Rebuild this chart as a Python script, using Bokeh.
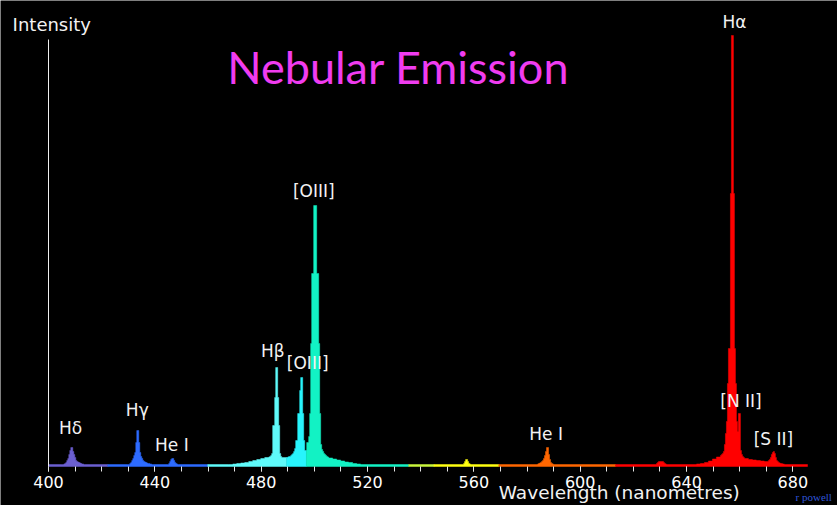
from bokeh.plotting import figure
from bokeh.models import Range1d, FixedTicker, Label
from bokeh.embed import file_html
from bokeh.resources import INLINE

# ---------------------------------------------------------------------------
# Spectrum data (wavelength in nm, intensity in relative units, Hbeta ~ 100)
# ---------------------------------------------------------------------------
WL_MIN, WL_MAX = 400.0, 685.5
CONTINUUM = 2.0          # faint continuum between the emission features
FINE = 0.376             # fine sampling step (nm)
COARSE = 1.504           # coarse sampling step used for the broad wings (nm)

# H-delta 410
H_DELTA_START = 405.00
H_DELTA = [2, 2, 2.5, 3, 4, 6, 8, 12, 16, 19, 19, 15, 12, 9, 6, 5, 4.5, 4,
           3.5, 3, 2.5, 2.5, 2]

# H-gamma 434
H_GAMMA_START = 429.82
H_GAMMA = [2, 2, 3, 4, 6, 8, 11, 14, 24, 36, 36, 24, 14, 10, 8, 6, 5, 4.5,
           4, 3.5, 3, 3, 2.5, 2.5, 2, 2]

# He I 447
HE_I_447_START = 444.85
HE_I_447 = [2, 3, 5, 7, 8, 8, 6, 4, 3, 2.5, 2]

# blue wing of the H-beta / [O III] complex
HB_WING_BLUE_START = 467.79
HB_WING_BLUE = [2, 2.5, 3, 3.5, 4, 5, 6, 7, 8, 9]

# H-beta 486, [O III] 496 and [O III] 501
HB_OIII_START = 482.83
HB_OIII = [9.5, 10, 11, 13, 41, 41, 69, 99, 99, 69, 41, 13, 10, 9, 9, 9, 9,
           9, 9, 9.5, 10, 10, 11, 12, 13, 15, 18, 26, 26, 53, 53, 76, 89, 89,
           53, 26, 16, 16, 24, 24, 30, 53, 123, 193, 193, 261, 261, 261, 193,
           193, 123, 53, 22, 17, 15, 13, 12, 11, 10, 9.5]

# red wing of the [O III] complex
OIII_WING_RED_START = 505.39
OIII_WING_RED = [8.5, 7.5, 6.5, 5.5, 4.5, 4, 3, 2.5]

# [O I] 558
OI_558_START = 556.14
OI_558 = [3, 5, 7, 7, 5, 3, 2.5]

# He I 588
HE_I_588_START = 583.95
HE_I_588 = [2.5, 3, 3.5, 4, 5, 6, 8, 11, 15, 19, 19, 12, 7, 4, 3, 2.5]

# [O I] 630
OI_630_START = 628.69
OI_630 = [3, 4, 5, 5, 5, 5, 5, 4, 3, 2.5]

# blue wing of H-alpha
HA_WING_BLUE_START = 643.73
HA_WING_BLUE = [2.5, 3, 4, 5.5, 7.5, 9.5]

# H-alpha 656 with [N II] 658
HA_NII_START = 652.75
HA_NII = [11, 12, 13, 15, 22, 33, 45, 83, 118, 118, 273, 431, 431, 273, 118,
          83, 45, 35, 53, 53, 16, 12, 10, 9]

# red wing of H-alpha
HA_WING_RED_START = 661.77
HA_WING_RED = [8, 7, 6.5, 6, 5.5, 5]

# [S II] 672
SII_START = 670.79
SII = [6, 7, 9, 12, 14, 15, 13, 9, 6, 5, 4, 3.5, 3, 3, 2.5, 2.5]

# colour bands of the spectrum (nm edges) and their colours
BAND_EDGES = [400.0, 422.3, 459.9, 489.6, 497.0, 535.5, 545.0, 569.4, 613.3, 685.5]
BAND_COLORS = ["#6b5fd0", "#2d6bff", "#5ffafa", "#28f4fc", "#12f2c4",
               "#c8f53c", "#ffff10", "#ff6600", "#ff0000"]

# axis ticks
MAJOR_TICKS = [400, 440, 480, 520, 560, 600, 640, 680]
MINOR_TICKS = list(range(400, 690, 10))
Y_AXIS_TOP = 427

# line identifications
LINE_NAMES = ["H\u03b4", "H\u03b3", "He I", "H\u03b2", "[OIII]", "[OIII]",
              "He I", "H\u03b1", "[N II]", "[S II]"]

# ---------------------------------------------------------------------------
# Assemble the stepped spectrum
# ---------------------------------------------------------------------------
segments = [
    (H_DELTA_START, FINE, H_DELTA),
    (H_GAMMA_START, FINE, H_GAMMA),
    (HE_I_447_START, FINE, HE_I_447),
    (HB_WING_BLUE_START, COARSE, HB_WING_BLUE),
    (HB_OIII_START, FINE, HB_OIII),
    (OIII_WING_RED_START, COARSE, OIII_WING_RED),
    (OI_558_START, FINE, OI_558),
    (HE_I_588_START, FINE, HE_I_588),
    (OI_630_START, FINE, OI_630),
    (HA_WING_BLUE_START, COARSE, HA_WING_BLUE),
    (HA_NII_START, FINE, HA_NII),
    (HA_WING_RED_START, COARSE, HA_WING_RED),
    (SII_START, FINE, SII),
]
segments.sort(key=lambda s: s[0])

steps = []
pos = WL_MIN
for start, width, vals in segments:
    if start > pos + 1e-6:
        steps.append((pos, start, CONTINUUM))
        pos = start
    for i, v in enumerate(vals):
        lo = max(start + i * width, pos)
        hi = start + (i + 1) * width
        if hi > lo:
            steps.append((lo, hi, v))
            pos = hi
if pos < WL_MAX:
    steps.append((pos, WL_MAX, CONTINUUM))

# one stepped polygon per colour band
patch_xs, patch_ys = [], []
for b0, b1 in zip(BAND_EDGES[:-1], BAND_EDGES[1:]):
    xs, ys = [b0], [0]
    for lo, hi, h in steps:
        lo_c, hi_c = max(lo, b0), min(hi, b1)
        if hi_c > lo_c:
            xs += [lo_c, hi_c]
            ys += [h, h]
    xs.append(b1)
    ys.append(0)
    patch_xs.append(xs)
    patch_ys.append(ys)

# ---------------------------------------------------------------------------
# Figure: the plotting frame fills the canvas, the axes sit at fixed places
# ---------------------------------------------------------------------------
W, H = 837, 505
PX_PER_NM = 759.0 / (WL_MAX - WL_MIN)
LEFT_PAD, RIGHT_PAD, BOTTOM_PAD = 48, 30, 39

p = figure(width=W, height=H, output_backend="svg", toolbar_location=None,
           x_range=Range1d(WL_MIN - LEFT_PAD / PX_PER_NM,
                           WL_MAX + RIGHT_PAD / PX_PER_NM),
           y_range=Range1d(-BOTTOM_PAD, H - BOTTOM_PAD),
           min_border_left=0, min_border_right=0,
           min_border_top=0, min_border_bottom=0)
p.background_fill_color = "black"
p.border_fill_color = "black"
p.outline_line_color = None
p.grid.visible = False

p.patches(xs=patch_xs, ys=patch_ys, fill_color=BAND_COLORS,
          line_color=BAND_COLORS, line_width=0.5)

# x axis: ticks every 10 nm, labels every 40 nm, along the zero line
xa = p.xaxis[0]
xa.fixed_location = 0
xa.ticker = FixedTicker(ticks=MAJOR_TICKS, minor_ticks=MINOR_TICKS)
xa.axis_line_color = None
xa.major_tick_line_color = "#e6e6e6"
xa.minor_tick_line_color = "#e6e6e6"
xa.major_tick_in = 0
xa.major_tick_out = 5
xa.minor_tick_in = 0
xa.minor_tick_out = 5
xa.major_label_standoff = 4
xa.major_label_text_font = "DejaVu Sans"
xa.major_label_text_font_size = "16px"
xa.major_label_text_color = "white"

# y axis: a bare white line at 400 nm
ya = p.yaxis[0]
ya.fixed_location = WL_MIN
ya.ticker = FixedTicker(ticks=[])
ya.bounds = (0, Y_AXIS_TOP)
ya.axis_line_color = "#f0f0f0"
ya.axis_line_width = 1
ya.major_tick_out = 0
ya.minor_tick_out = 0
ya.major_label_text_font_size = "0px"


def text_label(x, y, text, size, color="#f2f2f2", font="DejaVu Sans",
               align="center"):
    """Label whose y is the text baseline (the renderer anchors ~0.43 em higher)."""
    return Label(x=x, y=y + 0.43 * size, text=text, text_align=align,
                 text_baseline="alphabetic", text_color=color,
                 text_font=font, text_font_size=f"{size}px")


# line identifications
label_x = [408.3, 433.4, 446.4, 484.4, 497.5, 499.8, 587.2, 658.0, 660.5, 672.7]
label_y = [31, 49, 14, 108, 96, 268, 25, 437, 58, 20]
for name, lx, ly in zip(LINE_NAMES, label_x, label_y):
    p.add_layout(text_label(lx, ly, name, 17))

# title and axis captions
p.add_layout(text_label(531.6, 380, "Nebular Emission", 45,
                        color="#f03cf0", font="Lato"))
p.add_layout(text_label(386.5, 434, "Intensity", 18, align="left"))
p.add_layout(text_label(615.8, -34, "Wavelength  (nanometres)", 18.5))
p.add_layout(text_label(681.0, -35, "r powell", 11, color="#2f55d8",
                        font="Liberation Serif", align="left"))

open("out.html", "w").write(file_html(p, INLINE))
